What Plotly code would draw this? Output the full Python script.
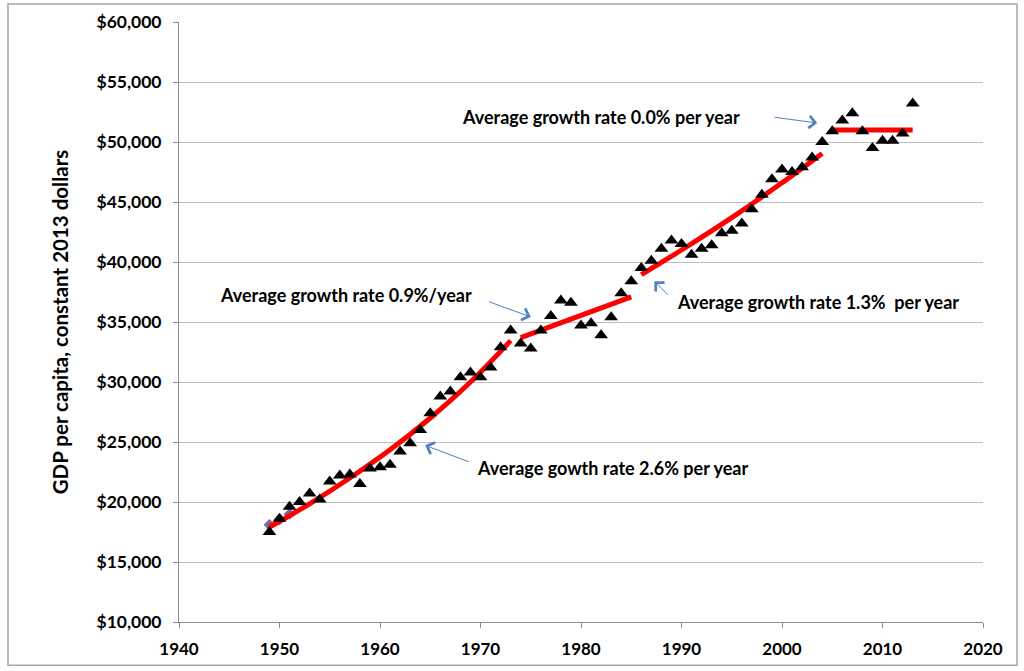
import plotly.graph_objects as go

# ---------------------------------------------------------------
# data
# ---------------------------------------------------------------
years = list(range(1949, 2014))
gdp = [
    17500, 18600, 19600, 20000, 20700, 20200, 21700, 22200, 22300, 21500,  # 1949-1958
    22800, 22900, 23100, 24200, 24900, 26000, 27400, 28800, 29200, 30400,  # 1959-1968
    30800, 30400, 31200, 32900, 34300, 33200, 32800, 34300, 35500, 36800,  # 1969-1978
    36600, 34700, 34900, 33900, 35400, 37400, 38400, 39500, 40100, 41100,  # 1979-1988
    41800, 41500, 40600, 41100, 41400, 42400, 42600, 43200, 44400, 45600,  # 1989-1998
    46900, 47700, 47500, 47900, 48700, 50000, 50900, 51800, 52400, 50900,  # 1999-2008
    49500, 50100, 50100, 50700, 53200,                                     # 2009-2013
]

# fitted trend segments
trend1_x = [1949, 1953, 1957, 1961, 1965, 1969, 1973]
trend1_y = [17900, 19850, 22000, 24350, 27000, 30000, 33450]
trend2_x = [1974, 1985]
trend2_y = [33700, 37100]
trend3_x = [1986, 1990, 1995, 2000, 2004]
trend3_y = [38950, 41000, 43700, 46600, 49050]
trend4_x = [2005, 2013]
trend4_y = [51000, 51000]

# small leftover series at the start
extra_x = [1949, 1950, 1951]
extra_y = [18100, 18550, 19000]

notes = [
    ("Average growth rate 0.0% per year", 1982.0, 52050),
    ("Average growth rate 0.9%/year", 1956.6, 37230),
    ("Average growth rate 1.3%  per year", 2003.6, 36650),
    ("Average gowth rate 2.6% per year", 1983.1, 22800),
]
# arrows: (tail x, tail y, head x, head y)
arrows = [
    (1999.1, 52080, 2003.5, 51580),
    (1970.7, 36730, 1975.0, 35420),
    (1988.8, 37150, 1987.3, 38400),
    (1969.0, 23300, 1964.5, 24720),
]

FONT = "Lato"
GRID = "#bfbfbf"
ARROW = "#4f81bd"

fig = go.Figure()

fig.add_trace(go.Scatter(x=extra_x, y=extra_y, mode="lines+markers",
                         line=dict(color="#8064a2", width=2, dash="dot"),
                         marker=dict(symbol="diamond", size=9, color="#8064a2")))

for tx, ty in [(trend1_x, trend1_y), (trend2_x, trend2_y),
               (trend3_x, trend3_y), (trend4_x, trend4_y)]:
    fig.add_trace(go.Scatter(x=tx, y=ty, mode="lines",
                             line=dict(color="#ff0000", width=5, shape="spline")))

fig.add_trace(go.Scatter(x=years, y=gdp, mode="markers",
                         marker=dict(symbol="triangle-up", size=12, color="black")))

for txt, x, y in notes:
    fig.add_annotation(x=x, y=y, text=txt, showarrow=False,
                       font=dict(family=FONT, size=18, color="black", weight="bold"))

for ax, ay, hx, hy in arrows:
    fig.add_annotation(x=hx, y=hy, ax=ax, ay=ay, axref="x", ayref="y",
                       text="", showarrow=True, arrowhead=4, arrowsize=2.4,
                       arrowwidth=1, arrowcolor=ARROW)

# outer frame of the chart
fig.add_shape(type="rect", xref="paper", yref="paper",
              x0=-0.2127, x1=1.0423, y0=-0.072, y1=1.03,
              line=dict(color="#a6a6a6", width=1.5))

fig.update_layout(
    width=1024, height=671,
    margin=dict(l=179, r=41, t=22, b=49),
    paper_bgcolor="white", plot_bgcolor="white",
    showlegend=False,
    font=dict(family=FONT, color="black"),
)

fig.update_xaxes(range=[1940, 2020], dtick=10, tick0=1940,
                 showgrid=False, zeroline=False,
                 showline=True, linecolor="#8c8c8c", linewidth=1,
                 ticks="outside", ticklen=5, tickcolor="#8c8c8c",
                 ticklabelstandoff=7,
                 tickfont=dict(family=FONT, size=17, color="black", weight="bold"))

fig.update_yaxes(range=[10000, 60000], dtick=5000, tick0=10000,
                 showgrid=True, gridcolor=GRID, gridwidth=1, zeroline=False,
                 showline=True, linecolor="#8c8c8c", linewidth=1,
                 ticks="outside", ticklen=5, tickcolor="#8c8c8c",
                 ticklabelstandoff=8,
                 tickformat="$,.0f",
                 tickfont=dict(family=FONT, size=17.5, color="black", weight="bold"),
                 title=dict(text="GDP per capita, constant 2013 dollars",
                            font=dict(family=FONT, size=20.5, color="black", weight="bold"),
                            standoff=22))

# the page's default body margin would push the chart off the window
fig.write_html("out.html", config={"displayModeBar": False},
               post_script="document.body.style.margin='0';")
